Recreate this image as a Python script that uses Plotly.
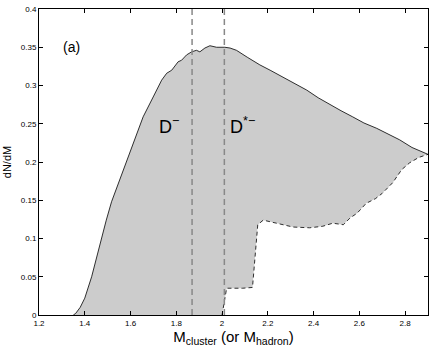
import plotly.graph_objects as go

# upper envelope (solid)
upper_x = [1.35, 1.36, 1.38, 1.40, 1.43, 1.45, 1.471, 1.494, 1.517, 1.55, 1.583, 1.62, 1.655,
           1.699, 1.736, 1.758, 1.78, 1.808, 1.823, 1.845, 1.867, 1.888, 1.903, 1.925, 1.947,
           1.976, 2.012, 2.035, 2.063, 2.11, 2.165, 2.21, 2.266, 2.32, 2.37, 2.42, 2.471, 2.52,
           2.571, 2.62, 2.676, 2.72, 2.776, 2.83, 2.886, 2.9]
upper_y = [0, 0.002, 0.01, 0.022, 0.05, 0.073, 0.1, 0.124, 0.148, 0.175, 0.2, 0.232, 0.259,
           0.285, 0.307, 0.316, 0.320, 0.331, 0.333, 0.340, 0.344, 0.346, 0.344, 0.349, 0.352,
           0.350, 0.350, 0.349, 0.346, 0.337, 0.327, 0.320, 0.311, 0.302, 0.294, 0.284, 0.275, 0.267,
           0.259, 0.251, 0.244, 0.237, 0.229, 0.219, 0.212, 0.21]

# lower envelope (dashed)
lower_x = [2.0, 2.02, 2.05, 2.09, 2.133, 2.156, 2.18, 2.24, 2.31, 2.383, 2.44, 2.484, 2.53,
           2.56, 2.59, 2.63, 2.67, 2.70, 2.746, 2.785, 2.82, 2.86, 2.9]
lower_y = [0, 0.035, 0.035, 0.035, 0.036, 0.118, 0.124, 0.120, 0.115, 0.114, 0.116, 0.120, 0.118,
           0.127, 0.133, 0.146, 0.152, 0.159, 0.173, 0.190, 0.199, 0.206, 0.21]

# meson masses (dashed verticals)
mass_lines = [1.869, 2.010]
mass_labels = ["D<sup>−</sup>", "D<sup>*−</sup>"]

x_ticks = [1.2, 1.4, 1.6, 1.8, 2.0, 2.2, 2.4, 2.6, 2.8]
x_tick_text = ["1.2", "1.4", "1.6", "1.8", "2", "2.2", "2.4", "2.6", "2.8"]
y_ticks = [0, 0.05, 0.1, 0.15, 0.2, 0.25, 0.3, 0.35, 0.4]
y_tick_text = ["0", "0.05", "0.1", "0.15", "0.2", "0.25", "0.3", "0.35", "0.4"]

FONT = "Liberation Sans, Arial, sans-serif"

fig = go.Figure()

# shaded band: upper curve, then lower curve back, closed along y=0
fill_x = upper_x + lower_x[::-1] + [upper_x[0]]
fill_y = upper_y + lower_y[::-1] + [upper_y[0]]
fig.add_trace(go.Scatter(x=fill_x, y=fill_y, fill="toself", fillcolor="#cccccc",
                         mode="lines", line=dict(width=0), hoverinfo="skip"))

fig.add_trace(go.Scatter(x=upper_x, y=upper_y, mode="lines",
                         line=dict(color="black", width=0.8)))
fig.add_trace(go.Scatter(x=lower_x, y=lower_y, mode="lines",
                         line=dict(color="black", width=0.8, dash="4px,3px")))

for m in mass_lines:
    fig.add_trace(go.Scatter(x=[m, m], y=[0, 0.4], mode="lines",
                             line=dict(color="#888888", width=1.5, dash="6px,4px")))

fig.add_annotation(x=1.342, y=0.35, text="(a)", showarrow=False, xanchor="center",
                   font=dict(size=14, family=FONT, color="black"))
fig.add_annotation(x=1.77, y=0.248, text=mass_labels[0], showarrow=False,
                   font=dict(size=18, family=FONT, color="black"))
fig.add_annotation(x=2.09, y=0.248, text=mass_labels[1], showarrow=False,
                   font=dict(size=18, family=FONT, color="black"))

fig.update_layout(
    width=431, height=348,
    margin=dict(l=39, r=3, t=9, b=33),
    plot_bgcolor="white", paper_bgcolor="white",
    showlegend=False,
    font=dict(family=FONT, size=8, color="black"),
)
fig.update_xaxes(range=[1.2, 2.9], tickvals=x_ticks, ticktext=x_tick_text,
                 ticks="inside", ticklen=4, tickcolor="black", showgrid=False, zeroline=False,
                 showline=True, linecolor="black", linewidth=1, mirror="ticks",
                 tickfont=dict(size=8),
                 title=dict(text="M<sub>cluster</sub> (or M<sub>hadron</sub>)",
                            font=dict(size=15), standoff=0))
fig.update_yaxes(range=[0, 0.4], tickvals=y_ticks, ticktext=y_tick_text,
                 ticks="inside", ticklen=4, tickcolor="black", showgrid=False, zeroline=False,
                 showline=True, linecolor="black", linewidth=1, mirror="ticks",
                 tickfont=dict(size=8),
                 title=dict(text="dN/dM", font=dict(size=11), standoff=6))

# drop the default page margin so the figure sits at the window's corner
fig.write_html("out.html", config={"displayModeBar": False},
               post_script="document.body.style.margin='0';")
